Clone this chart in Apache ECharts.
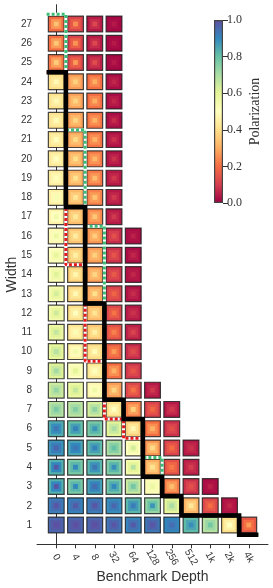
<!DOCTYPE html>
<html>
<head>
<meta charset="utf-8">
<script src="https://cdn.jsdelivr.net/npm/echarts@6/dist/echarts.min.js"></script>
<style>
html,body{margin:0;padding:0;background:#fff;}
#chart{width:273px;height:588px;}
</style>
</head>
<body>
<div id="chart"></div>
<script>
// Categories
const depths = ['0','4','8','32','64','128','256','512','1k','2k','4k'];
const widths = [1,2,3,4,5,6,7,8,9,10,11,12,13,14,15,16,17,18,19,20,21,22,23,24,25,26,27];
const depthTicks = [0,1,2,3,4,5,6,7,8,9,10];
const polTicks = [0,0.2,0.4,0.6,0.8,1.0];

// Polarization: outer ring / middle square / centre square (rows = width 1..27, cols = depth index)
const polOuter = [
  [0.96,0.96,0.96,0.93,0.91,0.93,0.90,0.81,0.68,0.40,0.16],
  [0.92,0.91,0.92,0.89,0.82,0.73,0.59,0.31,0.12,0.03],
  [0.83,0.77,0.86,0.78,0.65,0.49,0.22,0.08,0.02],
  [0.83,0.77,0.82,0.76,0.55,0.30,0.14,0.05],
  [0.88,0.85,0.81,0.70,0.50,0.26,0.11,0.04],
  [0.84,0.80,0.77,0.60,0.37,0.20,0.08],
  [0.68,0.67,0.63,0.40,0.23,0.11,0.04],
  [0.64,0.57,0.47,0.27,0.12,0.04],
  [0.61,0.50,0.42,0.20,0.09],
  [0.59,0.45,0.39,0.17,0.07],
  [0.57,0.42,0.35,0.14,0.05],
  [0.55,0.40,0.32,0.12,0.04],
  [0.54,0.38,0.29,0.11,0.03],
  [0.52,0.37,0.28,0.09,0.03],
  [0.50,0.35,0.27,0.08,0.02],
  [0.48,0.34,0.26,0.07,0.02],
  [0.46,0.33,0.24,0.04],
  [0.45,0.32,0.23,0.04],
  [0.44,0.31,0.22,0.04],
  [0.43,0.30,0.22,0.03],
  [0.42,0.29,0.21,0.03],
  [0.41,0.28,0.21,0.02],
  [0.41,0.28,0.20,0.02],
  [0.40,0.27,0.20,0.02],
  [0.21,0.12,0.05,0.01],
  [0.20,0.11,0.04,0.01],
  [0.19,0.11,0.04,0.01]
];
const polMid = [
  [0.98,0.98,0.98,0.96,0.94,0.96,0.92,0.85,0.72,0.45,0.20],
  [0.95,0.94,0.95,0.92,0.87,0.79,0.64,0.36,0.16,0.04],
  [0.90,0.82,0.91,0.84,0.71,0.53,0.27,0.11,0.03],
  [0.90,0.82,0.88,0.82,0.60,0.35,0.18,0.07],
  [0.92,0.90,0.86,0.75,0.55,0.32,0.15,0.06],
  [0.89,0.86,0.82,0.65,0.42,0.25,0.11],
  [0.72,0.71,0.68,0.45,0.28,0.15,0.07],
  [0.68,0.61,0.51,0.31,0.16,0.06],
  [0.65,0.54,0.46,0.25,0.12],
  [0.63,0.49,0.43,0.21,0.10],
  [0.61,0.46,0.39,0.18,0.08],
  [0.59,0.44,0.36,0.16,0.06],
  [0.58,0.42,0.33,0.14,0.05],
  [0.56,0.41,0.32,0.12,0.04],
  [0.54,0.39,0.31,0.11,0.04],
  [0.52,0.38,0.30,0.10,0.03],
  [0.50,0.37,0.28,0.06],
  [0.48,0.36,0.27,0.06],
  [0.47,0.35,0.26,0.06],
  [0.46,0.34,0.26,0.05],
  [0.45,0.33,0.25,0.05],
  [0.44,0.32,0.25,0.04],
  [0.44,0.32,0.24,0.04],
  [0.43,0.31,0.24,0.04],
  [0.28,0.17,0.08,0.02],
  [0.27,0.17,0.07,0.02],
  [0.26,0.16,0.07,0.02]
];
const polInner = [
  [1.00,1.00,1.00,0.99,0.98,0.99,0.95,0.89,0.78,0.50,0.27],
  [0.99,0.98,0.99,0.96,0.92,0.88,0.70,0.43,0.20,0.06],
  [0.99,0.90,0.95,0.90,0.78,0.57,0.33,0.14,0.05],
  [0.98,0.90,0.93,0.89,0.68,0.41,0.22,0.10],
  [0.96,0.93,0.91,0.80,0.63,0.39,0.20,0.08],
  [0.93,0.91,0.88,0.70,0.48,0.31,0.14],
  [0.77,0.76,0.74,0.50,0.37,0.19,0.09],
  [0.73,0.66,0.56,0.38,0.21,0.09],
  [0.71,0.60,0.51,0.31,0.15],
  [0.68,0.55,0.49,0.27,0.13],
  [0.66,0.52,0.45,0.23,0.11],
  [0.64,0.50,0.42,0.21,0.08],
  [0.63,0.48,0.40,0.18,0.07],
  [0.61,0.47,0.38,0.16,0.06],
  [0.59,0.45,0.37,0.15,0.06],
  [0.57,0.44,0.36,0.14,0.05],
  [0.55,0.43,0.35,0.09],
  [0.53,0.42,0.34,0.09],
  [0.51,0.41,0.33,0.09],
  [0.50,0.40,0.32,0.08],
  [0.50,0.39,0.31,0.08],
  [0.49,0.38,0.31,0.07],
  [0.48,0.38,0.30,0.06],
  [0.48,0.37,0.30,0.06],
  [0.36,0.27,0.13,0.04],
  [0.35,0.26,0.12,0.04],
  [0.34,0.25,0.12,0.04]
];

// Frontier step lines (depth index, width) along cell boundaries
const blackFrontier = [[-0.5,24.5],[0.5,24.5],[0.5,17.5],[1.5,17.5],[1.5,12.5],[2.5,12.5],[2.5,7.5],[3.5,7.5],[3.5,6.5],[4.5,6.5],[4.5,3.5],[5.5,3.5],[5.5,2.5],[6.5,2.5],[6.5,1.5],[9.5,1.5],[9.5,0.5],[10.5,0.5]];
const greenFrontier = [[-0.5,27.5],[0.5,27.5],[0.5,21.5],[1.5,21.5],[1.5,16.5],[2.5,16.5],[2.5,7.5],[3.5,7.5],[3.5,6.5],[4.5,6.5],[4.5,4.5],[5.5,4.5],[5.5,2.5],[6.5,2.5],[6.5,1.5],[9.5,1.5],[9.5,0.5],[10.5,0.5]];
const redFrontier = [[-0.5,24.5],[0.5,24.5],[0.5,14.5],[1.5,14.5],[1.5,9.5],[2.5,9.5],[2.5,6.5],[3.5,6.5],[3.5,5.5],[4.5,5.5],[4.5,3.5],[5.5,3.5],[5.5,2.5],[6.5,2.5],[6.5,1.5],[9.5,1.5],[9.5,0.5],[10.5,0.5]];

const spectral = ['#9e0142','#d53e4f','#f46d43','#fdae61','#fee08b','#ffffbf','#e6f598','#abdda4','#66c2a5','#3288bd','#5e4fa2'];

function hex2rgb(h){return [parseInt(h.slice(1,3),16),parseInt(h.slice(3,5),16),parseInt(h.slice(5,7),16)];}
function polColor(v){
  v = Math.max(0, Math.min(1, v));
  const t = v * 10;
  let i = Math.floor(t); if (i >= 10) i = 9;
  const f = t - i;
  const a = hex2rgb(spectral[i]), b = hex2rgb(spectral[i+1]);
  const c = a.map((x,k)=>Math.round(x + (b[k]-x)*f));
  return 'rgb(' + c.join(',') + ')';
}

const cellData = [];
widths.forEach((w, r) => {
  polOuter[r].forEach((v, c) => {
    cellData.push([c, w, v, polMid[r][c], polInner[r][c]]);
  });
});

const chart = echarts.init(document.getElementById('chart'), null, {renderer:'canvas'});
const sans = 'Liberation Sans, Arial, sans-serif';
const serif = 'Liberation Serif, Times New Roman, serif';

const option = {
  animation: false,
  backgroundColor: '#fff',
  grid: [
    {left: 37, right: 5, top: 4.7, bottom: 43.7, containLabel: false, outerBoundsMode: 'none'},
    {left: 214, top: 20, width: 9, height: 183, containLabel: false, outerBoundsMode: 'none'}
  ],
  xAxis: [
    {
      type: 'value', gridIndex: 0, min: -1, max: 11,
      splitLine: {show: false},
      axisLine: {show: true, lineStyle: {color: '#333', width: 1}},
      axisTick: {show: true, length: 4, customValues: depthTicks, lineStyle: {color: '#333'}},
      axisLabel: {
        customValues: depthTicks,
        formatter: v => depths[v],
        rotate: -60, align: 'center', verticalAlign: 'middle', margin: 13,
        fontSize: 10, color: '#333', fontFamily: sans
      },
      name: 'Benchmark Depth', nameLocation: 'middle', nameGap: 26, nameMoveOverlap: false,
      nameTextStyle: {fontSize: 14, color: '#333', fontFamily: sans}
    },
    {type: 'category', gridIndex: 1, data: ['c'], show: false}
  ],
  yAxis: [
    {
      type: 'value', gridIndex: 0, min: 0, max: 28,
      splitLine: {show: false},
      axisLine: {show: true, lineStyle: {color: '#333', width: 1}},
      axisTick: {show: true, length: 4, customValues: widths, lineStyle: {color: '#333'}},
      axisLabel: {customValues: widths, fontSize: 10, color: '#333', fontFamily: sans, margin: 5},
      name: 'Width', nameLocation: 'middle', nameGap: 18, nameRotate: 90, nameMoveOverlap: false,
      nameTextStyle: {fontSize: 14, color: '#333', fontFamily: sans}
    },
    {
      type: 'value', gridIndex: 1, min: 0, max: 1, interval: 0.2, position: 'right',
      splitLine: {show: false},
      axisLine: {show: false},
      axisTick: {show: true, length: 5, lineStyle: {color: '#333'}},
      axisLabel: {formatter: v => v.toFixed(1), fontSize: 12, color: '#333', fontFamily: serif, margin: 4},
      name: 'Polarization', nameLocation: 'middle', nameRotate: 90, nameGap: 25, nameMoveOverlap: false,
      nameTextStyle: {fontSize: 14, color: '#333', fontFamily: serif}
    }
  ],
  series: [
    {
      type: 'custom', xAxisIndex: 0, yAxisIndex: 0, silent: true,
      data: cellData,
      renderItem: function(params, api){
        const p = api.coord([api.value(0), api.value(1)]);
        const s = api.size([1, 1]);
        const mk = (k, v, stroke) => ({
          type: 'rect',
          shape: {x: p[0]-k*s[0]/2, y: p[1]-k*s[1]/2, width: k*s[0], height: k*s[1]},
          style: stroke ? {fill: polColor(v), stroke: 'rgba(25,25,25,0.8)', lineWidth: 1.2} : {fill: polColor(v)}
        });
        return {type: 'group', children: [
          mk(0.82, api.value(2), true),
          mk(0.53, api.value(3), false),
          mk(0.25, api.value(4), false)
        ]};
      }
    },
    {
      type: 'line', xAxisIndex: 0, yAxisIndex: 0, data: greenFrontier, symbol: 'none', silent: true,
      lineStyle: {color: '#ffffff', width: 3}
    },
    {
      type: 'line', xAxisIndex: 0, yAxisIndex: 0, data: greenFrontier, symbol: 'none', silent: true,
      lineStyle: {color: '#3dbd74', width: 3, type: [3, 2]}
    },
    {
      type: 'line', xAxisIndex: 0, yAxisIndex: 0, data: redFrontier, symbol: 'none', silent: true,
      lineStyle: {color: '#ffffff', width: 3}
    },
    {
      type: 'line', xAxisIndex: 0, yAxisIndex: 0, data: redFrontier, symbol: 'none', silent: true,
      lineStyle: {color: '#e3191c', width: 3, type: [3, 2]}
    },
    {
      type: 'line', xAxisIndex: 0, yAxisIndex: 0, data: blackFrontier, symbol: 'none', silent: true,
      lineStyle: {color: '#000', width: 4.5, join: 'miter', cap: 'butt'}
    },
    {
      type: 'bar', xAxisIndex: 1, yAxisIndex: 1, data: [1], barWidth: '100%', silent: true,
      itemStyle: {
        color: new echarts.graphic.LinearGradient(0, 1, 0, 0,
          spectral.map((c, i) => ({offset: i/10, color: c}))),
        borderColor: '#444', borderWidth: 1.2
      }
    }
  ]
};
chart.setOption(option);
</script>
</body>
</html>
